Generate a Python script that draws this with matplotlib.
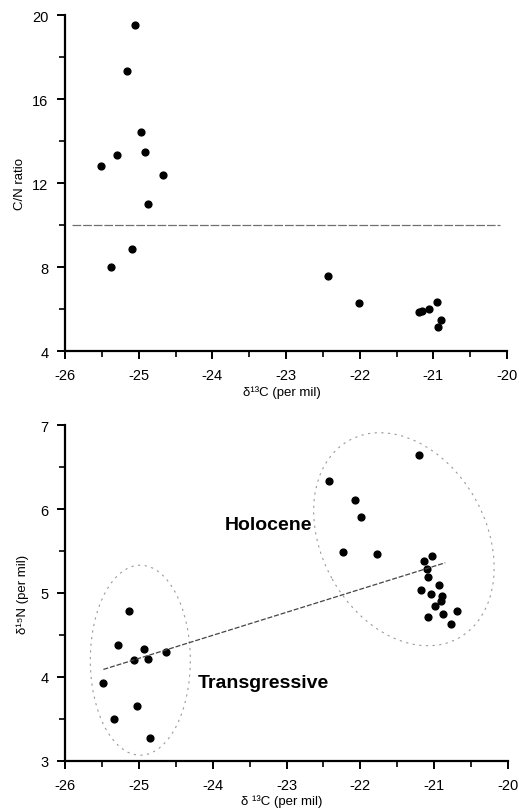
import matplotlib
matplotlib.use('Agg')
import matplotlib.pyplot as plt
from matplotlib.patches import Ellipse
from matplotlib.transforms import ScaledTranslation
from matplotlib.ticker import MultipleLocator

plt.rcParams['font.family'] = ['Liberation Sans', 'DejaVu Sans']
plt.rcParams['axes.unicode_minus'] = False

# ---------------- data ----------------
# Top panel: C/N ratio vs d13C
cn_x = [-25.05, -25.16, -24.97, -24.91, -25.30, -25.51, -24.67, -24.88, -25.09, -25.37,
        -22.43, -22.01, -21.20, -21.16, -21.06, -20.95, -20.89, -20.93]
cn_y = [19.54, 17.33, 14.41, 13.46, 13.35, 12.81, 12.40, 10.99, 8.86, 7.98,
        7.57, 6.27, 5.87, 5.90, 6.01, 6.35, 5.49, 5.16]
cn_threshold = 10
cn_line_x = [-25.9, -20.1]

# Bottom panel: d15N vs d13C
trans_x = [-25.13, -25.28, -24.93, -25.06, -24.88, -24.63, -25.48, -25.02, -25.34, -24.85]
trans_y = [4.78, 4.38, 4.33, 4.20, 4.21, 4.30, 3.93, 3.65, 3.50, 3.27]
holo_x = [-21.21, -22.42, -22.07, -21.99, -22.24, -21.77, -21.03, -21.14, -21.10, -21.09,
          -20.93, -21.18, -21.04, -20.89, -20.91, -20.99, -20.69, -20.88, -21.08, -20.77]
holo_y = [6.64, 6.33, 6.11, 5.91, 5.49, 5.46, 5.44, 5.38, 5.28, 5.19,
          5.09, 5.04, 4.99, 4.96, 4.90, 4.84, 4.79, 4.75, 4.71, 4.63]
trend_x = [-25.48, -20.85]
trend_y = [4.09, 5.36]

x_ticks = [-26, -25, -24, -23, -22, -21, -20]
cn_ticks = [4, 8, 12, 16, 20]
n_ticks = [3, 4, 5, 6, 7]

# ---------------- figure ----------------
W, H = 519, 812
fig = plt.figure(figsize=(W / 100, H / 100), dpi=100)


def axes_px(l, t, r, b):
    return fig.add_axes([l / W, 1 - b / H, (r - l) / W, (b - t) / H])


ax1 = axes_px(65, 16, 507, 352)
ax2 = axes_px(65, 426, 508, 762)


def style(ax):
    for s in ('top', 'right'):
        ax.spines[s].set_visible(False)
    for s in ('left', 'bottom'):
        ax.spines[s].set_linewidth(1.6)
    ax.tick_params(which='major', direction='out', length=6, width=1.4,
                   labelsize=10.5, pad=6)
    ax.tick_params(which='minor', direction='out', length=4, width=1.2)
    ax.xaxis.set_minor_locator(MultipleLocator(0.5))


mk = dict(marker='o', linestyle='none', color='black', markersize=4.9)

# top panel
ax1.plot(cn_x, cn_y, **mk)
ax1.plot(cn_line_x, [cn_threshold, cn_threshold], color='#707070', lw=0.9,
         linestyle=(0, (7, 1.5)))
ax1.set_xlim(-26, -20)
ax1.set_ylim(4, 20)
ax1.set_xticks(x_ticks)
ax1.set_yticks(cn_ticks)
ax1.yaxis.set_minor_locator(MultipleLocator(2))
style(ax1)
ax1.set_xlabel('δ¹³C (per mil)', fontsize=9.5)
ax1.set_ylabel('C/N ratio', fontsize=9.5)
ax1.xaxis.set_label_coords(0.49, -0.122)
ax1.xaxis.label.set_va('center')
ax1.yaxis.set_label_coords(-0.102, 0.5)
ax1.yaxis.label.set_va('center')

# bottom panel
ax2.plot(trans_x, trans_y, **mk)
ax2.plot(holo_x, holo_y, **mk)
ax2.plot(trend_x, trend_y, color='#444444', lw=0.9, linestyle=(0, (4, 1.5)))
ax2.set_xlim(-26, -20)
ax2.set_ylim(3, 7)
ax2.set_xticks(x_ticks)
ax2.set_yticks(n_ticks)
ax2.yaxis.set_minor_locator(MultipleLocator(0.5))
style(ax2)
ax2.set_xlabel('δ ¹³C (per mil)', fontsize=9.5)
ax2.set_ylabel('δ¹⁵N (per mil)', fontsize=9.5)
ax2.xaxis.set_label_coords(0.49, -0.119)
ax2.xaxis.label.set_va('center')
ax2.yaxis.set_label_coords(-0.095, 0.5)
ax2.yaxis.label.set_va('center')

# group outlines (sizes in inches, centred on data points)
ell_style = dict(fill=False, edgecolor='#9a9a9a', lw=0.8, linestyle=(0, (2, 4)))
holo_center = (-21.41, 5.64)
trans_center = (-24.98, 4.20)
for (cx, cy), w, h, ang in [(holo_center, 2.26, 1.64, -61),
                            (trans_center, 1.00, 1.90, 0)]:
    tr = fig.dpi_scale_trans + ScaledTranslation(cx, cy, ax2.transData)
    ax2.add_patch(Ellipse((0, 0), w, h, angle=ang, transform=tr, **ell_style))

ax2.text(-23.25, 5.82, 'Holocene', fontsize=14, fontweight='bold',
         ha='center', va='center')
ax2.text(-23.31, 3.93, 'Transgressive', fontsize=14, fontweight='bold',
         ha='center', va='center')

fig.savefig('out.png', dpi=100)
